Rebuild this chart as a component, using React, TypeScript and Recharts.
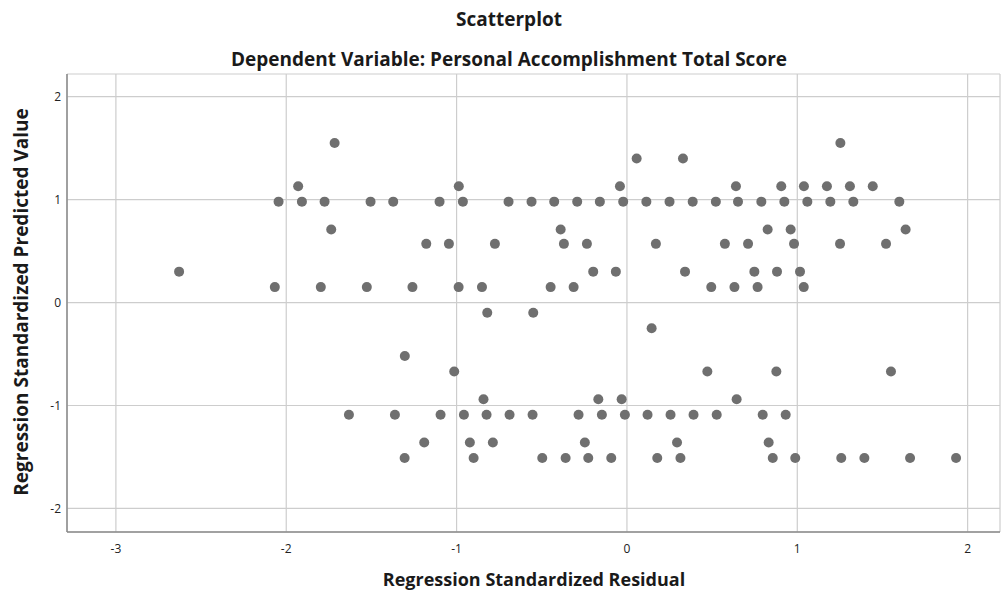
import React from 'react'
import { ScatterChart, Scatter, XAxis, YAxis, CartesianGrid } from 'recharts'

// predicted value levels (y) and the residuals (x) seen on each level
const predictedLevels = [1.55, 1.40, 1.13, 0.98, 0.71, 0.57, 0.30, 0.15, -0.10, -0.25, -0.52, -0.67, -0.94, -1.09, -1.36, -1.51]

const residualsByLevel = [
  [-1.716, 1.253],
  [0.057, 0.329],
  [-1.930, -0.987, -0.041, 0.640, 0.906, 1.039, 1.174, 1.309, 1.443],
  [-2.045, -1.908, -1.775, -1.505, -1.372, -1.100, -0.963, -0.695, -0.560, -0.427, -0.292, -0.159, -0.022, 0.114, 0.250, 0.386, 0.522, 0.652, 0.789, 0.924, 1.059, 1.194, 1.329, 1.599],
  [-1.736, -0.389, 0.826, 0.961, 1.636],
  [-1.178, -1.045, -0.775, -0.370, -0.235, 0.170, 0.575, 0.711, 0.981, 1.251, 1.521],
  [-2.629, -0.198, -0.065, 0.341, 0.748, 0.881, 1.016],
  [-2.067, -1.797, -1.527, -1.259, -0.988, -0.851, -0.448, -0.313, 0.495, 0.631, 0.767, 1.038],
  [-0.820, -0.550],
  [0.145],
  [-1.304],
  [-1.014, 0.472, 0.877, 1.550],
  [-0.842, -0.168, -0.031, 0.644],
  [-1.632, -1.362, -1.094, -0.957, -0.824, -0.689, -0.554, -0.284, -0.147, -0.012, 0.121, 0.256, 0.391, 0.527, 0.797, 0.932],
  [-1.190, -0.922, -0.787, -0.247, 0.294, 0.832],
  [-1.305, -0.900, -0.497, -0.360, -0.227, -0.092, 0.178, 0.314, 0.856, 0.988, 1.258, 1.394, 1.662, 1.932],
]

const xTicks = [-3, -2, -1, 0, 1, 2]
const yTicks = [-2, -1, 0, 1, 2]

const points = predictedLevels.flatMap((y, i) =>
  residualsByLevel[i].map((x) => ({ x, y }))
)

const font = '"Open Sans", sans-serif'

const Dot = (props: any) => {
  const { cx, cy } = props
  return <circle cx={cx} cy={cy} r={5} fill="#6f6f6f" />
}

const App = () => {
  return (
    <div style={{ position: 'absolute', left: 0, top: 0, width: 1002, height: 595, fontFamily: font, color: '#1a1a1a' }}>
      <div style={{ position: 'absolute', left: 0, width: 1018, top: 6, textAlign: 'center', fontWeight: 700, fontSize: 19 }}>
        Scatterplot
      </div>
      <div style={{ position: 'absolute', left: 0, width: 1018, top: 46, textAlign: 'center', fontWeight: 700, fontSize: 19 }}>
        Dependent Variable: Personal Accomplishment Total Score
      </div>
      <ScatterChart width={1002} height={595} margin={{ top: 74, right: 2, bottom: 0, left: 0 }}>
        <CartesianGrid stroke="#cdcdcd" strokeWidth={1.2} />
        <XAxis
          type="number"
          dataKey="x"
          domain={[-3.287, 2.19]}
          ticks={xTicks}
          allowDataOverflow
          height={63}
          tickLine={false}
          tickSize={0}
          tickMargin={12}
          axisLine={{ stroke: '#8a8a8a', strokeWidth: 1.5 }}
          tick={{ fill: '#222', fontSize: 12, fontFamily: font }}
        />
        <YAxis
          type="number"
          dataKey="y"
          domain={[-2.229, 2.22]}
          ticks={yTicks}
          allowDataOverflow
          width={67}
          tickLine={false}
          tickSize={0}
          tickMargin={6}
          axisLine={{ stroke: '#8a8a8a', strokeWidth: 1.5 }}
          tick={{ fill: '#222', fontSize: 12, fontFamily: font }}
        />
        <Scatter data={points} shape={Dot} isAnimationActive={false} />
      </ScatterChart>
      <div style={{ position: 'absolute', left: 0, width: 1068, top: 567, textAlign: 'center', fontWeight: 700, fontSize: 18 }}>
        Regression Standardized Residual
      </div>
      <div
        style={{
          position: 'absolute',
          left: 21,
          top: 302,
          transform: 'translate(-50%, -50%) rotate(-90deg)',
          whiteSpace: 'nowrap',
          fontWeight: 700,
          fontSize: 19,
        }}
      >
        Regression Standardized Predicted Value
      </div>
    </div>
  )
}

export default App
